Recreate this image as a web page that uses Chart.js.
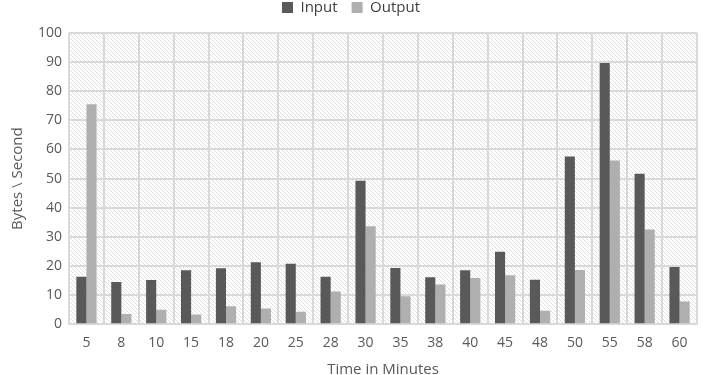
<!DOCTYPE html>
<html>
<head>
<meta charset="utf-8">
<script src="https://cdn.jsdelivr.net/npm/chart.js@4"></script>
<style>
  html, body { margin: 0; padding: 0; background: #fff; }
  #wrap { width: 709px; height: 375px; }
</style>
</head>
<body>
<div id="wrap"><canvas id="bar-chart"></canvas></div>
<script>
var minutes = ["5", "8", "10", "15", "18", "20", "25", "28", "30", "35", "38", "40", "45", "48", "50", "55", "58", "60"];
var inputValues = [16.3, 14.5, 15.2, 18.5, 19.2, 21.3, 20.8, 16.3, 49.3, 19.3, 16.1, 18.5, 24.9, 15.3, 57.6, 89.7, 51.7, 19.6];
var outputValues = [75.5, 3.5, 5.0, 3.3, 6.2, 5.4, 4.3, 11.2, 33.6, 9.6, 13.6, 15.9, 16.8, 4.6, 18.6, 56.2, 32.5, 7.8];

// diagonal hatch behind the plot area
var hatch = {
    id: 'hatch',
    beforeDraw: function (chart) {
        var a = chart.chartArea, ctx = chart.ctx;
        var p = document.createElement('canvas');
        p.width = 4; p.height = 4;
        var pc = p.getContext('2d');
        pc.fillStyle = '#ffffff';
        pc.fillRect(0, 0, 4, 4);
        pc.strokeStyle = '#e0e0e0';
        pc.lineWidth = 1;
        pc.beginPath();
        pc.moveTo(-1, -1); pc.lineTo(5, 5);
        pc.moveTo(-1, 3); pc.lineTo(1, 5);
        pc.moveTo(3, -1); pc.lineTo(5, 1);
        pc.stroke();
        ctx.save();
        ctx.fillStyle = ctx.createPattern(p, 'repeat');
        ctx.fillRect(a.left, a.top, a.right - a.left, a.bottom - a.top);
        ctx.restore();
    }
};

// extra room under the legend
var legendGap = {
    id: 'legendGap',
    beforeInit: function (chart) {
        var fit = chart.legend.fit;
        chart.legend.fit = function () {
            fit.bind(chart.legend)();
            this.height += 8;
        };
    }
};

Chart.defaults.font.family = "'Open Sans', sans-serif";
Chart.defaults.color = '#595959';

new Chart(document.getElementById("bar-chart"), {
    type: 'bar',
    data: {
        labels: minutes,
        datasets: [
            {
                label: "Input",
                backgroundColor: "#595959",
                data: inputValues,
                categoryPercentage: 0.58,
                barPercentage: 1.0
            },
            {
                label: "Output",
                backgroundColor: "#afafaf",
                data: outputValues,
                categoryPercentage: 0.58,
                barPercentage: 1.0
            }
        ]
    },
    plugins: [hatch, legendGap],
    options: {
        maintainAspectRatio: false,
        responsive: true,
        animation: false,
        layout: { padding: { left: 5, right: 12, top: -14, bottom: -4 } },
        plugins: {
            legend: {
                position: 'top',
                labels: { boxWidth: 11, boxHeight: 11, padding: 14, font: { size: 15 }, color: '#404040' }
            },
            tooltip: { enabled: false }
        },
        scales: {
            x: {
                grid: { color: '#d9d9d9', lineWidth: 2, offset: true, drawTicks: false },
                border: { color: '#d9d9d9', width: 2 },
                ticks: { font: { size: 14 }, padding: 10 },
                title: { display: true, text: 'Time in Minutes', font: { size: 15 }, padding: { top: 0, bottom: 0 } }
            },
            y: {
                min: 0,
                max: 100,
                grid: { color: '#d9d9d9', lineWidth: 2, drawTicks: false },
                border: { display: false },
                ticks: { stepSize: 10, font: { size: 14 }, padding: 7 },
                title: { display: true, text: 'Bytes \\ Second', font: { size: 15 } }
            }
        }
    }
});
</script>
</body>
</html>
